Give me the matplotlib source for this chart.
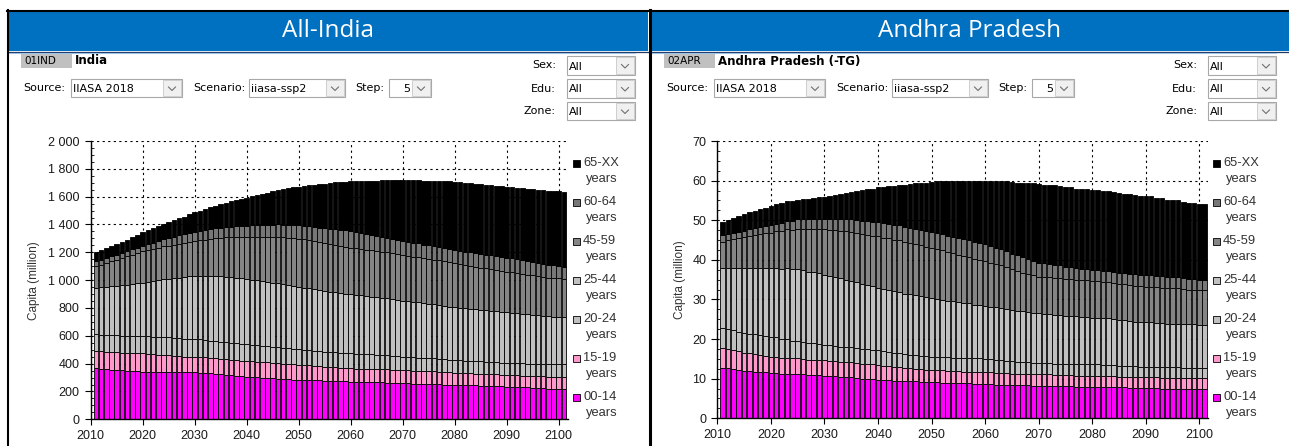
import numpy as np
import matplotlib
matplotlib.use('Agg')
import matplotlib.pyplot as plt
from matplotlib.patches import Rectangle
from matplotlib.ticker import FuncFormatter, MultipleLocator

# years shown as bars
years = list(range(2011, 2102))

age_groups = ['00-14', '15-19', '20-24', '25-44', '45-59', '60-64', '65-XX']
group_colors = ['#ff00ff', '#ff99cc', '#c0c0c0', '#c0c0c0', '#858585', '#777777', '#000000']

# All-India, million persons by age group
india_0014 = [366, 363, 360, 357, 354, 351, 348, 346, 344, 342,
              341, 340, 340, 342, 341, 340, 339, 338, 338, 338,
              336, 333, 330, 327, 324, 320, 316, 313, 310, 307,
              304, 302, 300, 298, 296, 293, 290, 288, 285, 283,
              282, 281, 280, 279, 278, 277, 276, 274, 272, 271,
              270, 269, 268, 267, 266, 265, 264, 262, 260, 259,
              258, 257, 256, 255, 254, 253, 252, 250, 248, 247,
              246, 245, 244, 243, 242, 241, 240, 238, 236, 235,
              234, 232, 230, 229, 227, 225, 223, 221, 220, 219,
              218]
india_1519 = [124, 125, 126, 127, 128, 129, 130, 131, 131, 132,
              130, 127, 124, 121, 118, 116, 114, 113, 112, 112,
              112, 112, 112, 112, 112, 112, 112, 112, 112, 112,
              112, 112, 112, 111, 111, 111, 111, 111, 110, 110,
              108, 106, 104, 102, 100, 99, 98, 97, 96, 95,
              95, 95, 95, 95, 95, 95, 95, 95, 95, 95,
              94, 93, 93, 92, 91, 91, 90, 89, 89, 88,
              88, 87, 87, 86, 86, 85, 85, 85, 84, 84,
              84, 84, 84, 84, 85, 85, 86, 86, 87, 88,
              88]
india_2024 = [120, 120, 121, 121, 122, 122, 123, 123, 124, 125,
              126, 127, 128, 129, 130, 130, 129, 128, 128, 127,
              126, 125, 124, 124, 123, 122, 122, 121, 121, 120,
              119, 118, 117, 116, 115, 114, 113, 112, 111, 110,
              110, 110, 110, 109, 109, 109, 108, 108, 108, 108,
              107, 106, 105, 104, 102, 101, 100, 98, 97, 96,
              96, 95, 95, 94, 94, 93, 93, 92, 92, 91,
              91, 90, 90, 90, 89, 89, 89, 88, 88, 88,
              88, 88, 88, 88, 88, 88, 88, 88, 88, 88,
              88]
india_2544 = [335, 340, 345, 350, 356, 361, 366, 371, 377, 383,
              390, 398, 406, 414, 422, 430, 437, 444, 450, 455,
              459, 462, 465, 467, 468, 469, 470, 470, 470, 469,
              468, 466, 464, 462, 460, 458, 455, 453, 450, 448,
              446, 443, 441, 438, 436, 433, 431, 429, 426, 424,
              422, 420, 418, 416, 414, 412, 410, 408, 405, 403,
              401, 398, 396, 393, 391, 389, 386, 384, 381, 379,
              377, 375, 374, 372, 370, 368, 367, 365, 364, 362,
              360, 358, 356, 353, 351, 349, 347, 344, 342, 340,
              338]
india_4559 = [156, 164, 172, 180, 188, 196, 204, 212, 220, 228,
              230, 232, 234, 236, 238, 240, 242, 244, 246, 249,
              254, 260, 266, 272, 278, 284, 290, 295, 300, 304,
              309, 314, 319, 324, 329, 334, 338, 342, 345, 347,
              347, 346, 345, 344, 342, 341, 340, 338, 337, 335,
              335, 334, 334, 333, 332, 332, 331, 330, 329, 328,
              327, 326, 325, 324, 323, 322, 321, 320, 318, 316,
              313, 311, 308, 306, 303, 301, 298, 296, 294, 292,
              290, 289, 287, 286, 284, 283, 281, 280, 278, 277,
              275]
india_6064 = [34, 35, 35, 36, 36, 37, 37, 38, 38, 39,
              42, 45, 48, 51, 54, 57, 60, 62, 65, 67,
              68, 69, 70, 71, 72, 74, 75, 76, 78, 79,
              81, 83, 84, 86, 88, 90, 91, 93, 95, 96,
              99, 101, 104, 106, 109, 111, 114, 116, 118, 120,
              118, 116, 114, 112, 110, 108, 106, 104, 102, 100,
              100, 99, 99, 98, 98, 97, 97, 96, 96, 96,
              97, 97, 98, 98, 99, 99, 100, 100, 101, 101,
              100, 99, 98, 97, 96, 95, 94, 92, 91, 90,
              89]
india_65xx = [67, 69, 72, 75, 78, 81, 84, 87, 91, 95,
              99, 103, 107, 111, 115, 119, 123, 127, 133, 139,
              145, 151, 157, 163, 169, 175, 181, 188, 195, 202,
              209, 216, 224, 232, 240, 248, 256, 264, 272, 279,
              287, 295, 303, 311, 319, 327, 335, 343, 351, 359,
              366, 373, 381, 389, 397, 405, 414, 423, 432, 440,
              445, 450, 455, 460, 465, 470, 475, 480, 486, 491,
              493, 495, 497, 499, 501, 503, 505, 507, 509, 510,
              512, 515, 517, 520, 523, 526, 529, 532, 535, 537,
              539]

# Andhra Pradesh, million persons by age group
ap_0014 = [12.8, 12.6, 12.4, 12.2, 12.0, 11.9, 11.8, 11.7, 11.6, 11.5,
           11.4, 11.3, 11.3, 11.2, 11.2, 11.1, 11.0, 11.0, 10.9, 10.8,
           10.7, 10.6, 10.5, 10.4, 10.3, 10.2, 10.0, 9.9, 9.8, 9.7,
           9.6, 9.6, 9.5, 9.5, 9.4, 9.3, 9.3, 9.2, 9.2, 9.1,
           9.1, 9.0, 9.0, 8.9, 8.9, 8.8, 8.8, 8.7, 8.7, 8.6,
           8.6, 8.5, 8.5, 8.4, 8.4, 8.4, 8.3, 8.3, 8.2, 8.2,
           8.2, 8.2, 8.1, 8.1, 8.1, 8.1, 8.0, 8.0, 8.0, 8.0,
           8.0, 7.9, 7.9, 7.8, 7.8, 7.8, 7.7, 7.7, 7.6, 7.6,
           7.6, 7.6, 7.5, 7.5, 7.5, 7.5, 7.4, 7.4, 7.4, 7.4,
           7.4]
ap_1519 = [4.9, 4.9, 4.8, 4.7, 4.6, 4.5, 4.4, 4.3, 4.2, 4.1,
           4.1, 4.0, 4.0, 3.9, 3.9, 3.9, 3.8, 3.8, 3.8, 3.8,
           3.8, 3.8, 3.8, 3.8, 3.8, 3.8, 3.8, 3.8, 3.8, 3.8,
           3.7, 3.6, 3.5, 3.4, 3.3, 3.3, 3.2, 3.2, 3.1, 3.1,
           3.1, 3.1, 3.0, 3.0, 3.0, 3.0, 3.0, 3.0, 3.0, 3.0,
           3.0, 3.0, 3.0, 3.0, 2.9, 2.9, 2.9, 2.9, 2.9, 2.9,
           2.9, 2.9, 2.9, 2.9, 2.8, 2.8, 2.8, 2.8, 2.8, 2.8,
           2.8, 2.8, 2.8, 2.8, 2.7, 2.7, 2.7, 2.7, 2.7, 2.7,
           2.7, 2.7, 2.7, 2.7, 2.7, 2.7, 2.7, 2.7, 2.7, 2.7,
           2.7]
ap_2024 = [5.0, 5.0, 5.0, 5.0, 5.0, 5.0, 5.0, 5.0, 5.0, 5.0,
           4.9, 4.8, 4.7, 4.5, 4.4, 4.3, 4.2, 4.1, 4.0, 3.9,
           3.9, 3.9, 3.8, 3.8, 3.8, 3.8, 3.8, 3.7, 3.7, 3.7,
           3.7, 3.6, 3.6, 3.6, 3.5, 3.5, 3.5, 3.4, 3.4, 3.4,
           3.4, 3.4, 3.4, 3.4, 3.4, 3.4, 3.4, 3.4, 3.4, 3.4,
           3.3, 3.3, 3.2, 3.1, 3.1, 3.0, 3.0, 2.9, 2.9, 2.8,
           2.8, 2.8, 2.8, 2.8, 2.8, 2.8, 2.8, 2.8, 2.8, 2.8,
           2.8, 2.8, 2.8, 2.8, 2.8, 2.7, 2.7, 2.7, 2.7, 2.7,
           2.7, 2.7, 2.7, 2.7, 2.7, 2.7, 2.7, 2.7, 2.7, 2.7,
           2.7]
ap_2544 = [15.2, 15.5, 15.8, 16.0, 16.3, 16.5, 16.7, 16.9, 17.1, 17.3,
           17.5, 17.7, 17.9, 18.0, 18.1, 18.1, 18.0, 18.0, 17.9, 17.8,
           17.6, 17.4, 17.2, 17.0, 16.8, 16.6, 16.4, 16.2, 16.0, 15.8,
           15.7, 15.6, 15.5, 15.4, 15.3, 15.2, 15.1, 15.0, 14.8, 14.7,
           14.6, 14.4, 14.3, 14.2, 14.0, 13.9, 13.8, 13.6, 13.5, 13.4,
           13.3, 13.2, 13.2, 13.1, 13.0, 12.9, 12.8, 12.8, 12.7, 12.6,
           12.5, 12.5, 12.4, 12.3, 12.2, 12.2, 12.1, 12.0, 11.9, 11.8,
           11.8, 11.7, 11.7, 11.6, 11.5, 11.5, 11.4, 11.3, 11.3, 11.2,
           11.2, 11.1, 11.1, 11.0, 11.0, 11.0, 10.9, 10.9, 10.9, 10.8,
           10.8]
ap_4559 = [6.7, 6.9, 7.2, 7.5, 7.8, 8.0, 8.3, 8.5, 8.8, 9.0,
           9.3, 9.5, 9.8, 10.0, 10.3, 10.5, 10.8, 11.0, 11.2, 11.4,
           11.6, 11.8, 12.0, 12.2, 12.4, 12.5, 12.6, 12.7, 12.8, 12.9,
           12.9, 13.0, 13.0, 13.0, 13.0, 13.0, 12.9, 12.9, 12.8, 12.8,
           12.6, 12.5, 12.3, 12.2, 12.0, 11.9, 11.7, 11.6, 11.4, 11.3,
           11.1, 10.9, 10.7, 10.5, 10.2, 10.0, 9.8, 9.6, 9.4, 9.2,
           9.2, 9.2, 9.3, 9.3, 9.3, 9.3, 9.3, 9.3, 9.3, 9.3,
           9.3, 9.3, 9.2, 9.2, 9.2, 9.1, 9.1, 9.1, 9.0, 9.0,
           9.0, 9.0, 8.9, 8.9, 8.9, 8.9, 8.9, 8.8, 8.8, 8.8,
           8.8]
ap_6064 = [1.6, 1.6, 1.7, 1.7, 1.7, 1.8, 1.8, 1.8, 1.8, 1.8,
           1.9, 2.0, 2.1, 2.2, 2.3, 2.3, 2.4, 2.5, 2.5, 2.6,
           2.7, 2.8, 2.9, 3.0, 3.1, 3.2, 3.3, 3.4, 3.5, 3.6,
           3.6, 3.7, 3.7, 3.8, 3.8, 3.8, 3.9, 3.9, 4.0, 4.0,
           4.0, 4.1, 4.1, 4.1, 4.2, 4.2, 4.2, 4.3, 4.3, 4.3,
           4.3, 4.2, 4.2, 4.1, 4.0, 3.9, 3.8, 3.8, 3.7, 3.6,
           3.5, 3.4, 3.3, 3.2, 3.1, 3.0, 2.9, 2.8, 2.8, 2.7,
           2.7, 2.7, 2.8, 2.8, 2.8, 2.9, 2.9, 2.9, 3.0, 3.0,
           3.0, 2.9, 2.9, 2.8, 2.8, 2.8, 2.7, 2.7, 2.7, 2.6,
           2.6]
ap_65xx = [3.3, 3.5, 3.7, 3.9, 4.1, 4.3, 4.4, 4.6, 4.7, 4.9,
           4.9, 5.0, 5.0, 5.0, 5.0, 5.1, 5.2, 5.3, 5.5, 5.6,
           5.9, 6.1, 6.4, 6.7, 7.0, 7.3, 7.7, 8.1, 8.4, 8.8,
           9.2, 9.6, 9.9, 10.3, 10.7, 11.1, 11.5, 11.8, 12.2, 12.6,
           13.0, 13.4, 13.7, 14.1, 14.5, 14.8, 15.1, 15.4, 15.7, 16.0,
           16.4, 16.8, 17.2, 17.6, 18.0, 18.4, 18.8, 19.1, 19.5, 19.8,
           19.9, 19.9, 20.0, 20.0, 20.1, 20.1, 20.1, 20.2, 20.2, 20.2,
           20.2, 20.1, 20.1, 20.1, 20.0, 20.0, 20.0, 19.9, 19.9, 19.9,
           19.8, 19.7, 19.7, 19.6, 19.5, 19.4, 19.3, 19.2, 19.1, 19.1,
           19.0]

india_series = [india_0014, india_1519, india_2024, india_2544, india_4559, india_6064, india_65xx]
ap_series = [ap_0014, ap_1519, ap_2024, ap_2544, ap_4559, ap_6064, ap_65xx]

W, H = 1289, 446
fig = plt.figure(figsize=(W / 100, H / 100), dpi=100)
fig.patch.set_facecolor('white')

# overlay in pixel coordinates for the dashboard frame and controls
ui = fig.add_axes([0, 0, 1, 1])
ui.set_xlim(0, W)
ui.set_ylim(H, 0)
ui.axis('off')
ui.set_zorder(0)

UI_FONT = 'DejaVu Sans'
HEAD_FONT = 'Open Sans'
CHART_FONT = 'Liberation Sans'


def dropdown(x0, y0, x1, y1, txt, right=False):
    ui.add_patch(Rectangle((x0, y0), x1 - x0, y1 - y0, fc='white', ec='#a8a8a8', lw=0.8))
    bx0 = x1 - 19
    ui.add_patch(Rectangle((bx0, y0 + 1), 18, y1 - y0 - 2, fc='#f0f0f0', ec='#c8c8c8', lw=0.6))
    cx, cy = bx0 + 9, (y0 + y1) / 2 + 1
    ui.plot([cx - 3.5, cx, cx + 3.5], [cy - 2, cy + 1.5, cy - 2], color='#707070', lw=0.8)
    if right:
        ui.text(bx0 - 2, (y0 + y1) / 2 + 1, txt, ha='right', va='center', fontsize=8, family=UI_FONT)
    else:
        ui.text(x0 + 2, (y0 + y1) / 2 + 1, txt, ha='left', va='center', fontsize=8, family=UI_FONT)


def panel(x0, x1, title, code, name, dx, dxr):
    # blue header
    ui.add_patch(Rectangle((x0, 11), x1 - x0, 40, fc='#0070c0', ec='none'))
    ui.plot([x0, x1], [51.5, 51.5], color='#1f3864', lw=0.9)
    ui.plot([x0, x1 - 13], [53, 53], color='#9dc3e6', lw=0.8)
    ui.text((x0 + x1) / 2, 31, title, ha='center', va='center', color='white',
            fontsize=17.5, family=HEAD_FONT)
    # region code and name
    ui.add_patch(Rectangle((21 + dx, 53), 51, 15, fc='#c0c0c0', ec='none'))
    ui.text(24 + dx, 61, code, ha='left', va='center', fontsize=7.5, family=UI_FONT)
    ui.text(75 + dx, 61, name, ha='left', va='center', fontsize=8.5, family=UI_FONT, weight='bold')
    # selectors
    ui.text(23 + dx, 88, 'Source:', ha='left', va='center', fontsize=8, family=UI_FONT)
    dropdown(71 + dx, 79, 182 + dx, 97, 'IIASA 2018')
    ui.text(193 + dx, 88, 'Scenario:', ha='left', va='center', fontsize=8, family=UI_FONT)
    dropdown(249 + dx, 79, 345 + dx, 97, 'iiasa-ssp2')
    ui.text(355 + dx, 88, 'Step:', ha='left', va='center', fontsize=8, family=UI_FONT)
    dropdown(389 + dx, 79, 431 + dx, 97, '5', right=True)
    for lab, ya, yb in [('Sex:', 56, 75), ('Edu:', 79, 98), ('Zone:', 102, 120)]:
        ui.text(556 + dxr, (ya + yb) / 2, lab, ha='right', va='center', fontsize=8, family=UI_FONT)
        dropdown(567 + dxr, ya, 635 + dxr, yb, 'All')


panel(8, 648, 'All-India', '01IND', 'India', 0, 0)
panel(651, W, 'Andhra Pradesh', '02APR', 'Andhra Pradesh (-TG)', 643, 641)

# frame lines
ui.plot([7, W], [10.5, 10.5], color='black', lw=1.5)
ui.plot([7.5, 7.5], [10, H], color='black', lw=1.5)
ui.plot([649.5, 649.5], [10, H], color='black', lw=2.2)


def px_axes(x0, x1, y0, y1):
    ax = fig.add_axes([x0 / W, 1 - y1 / H, (x1 - x0) / W, (y1 - y0) / H])
    ax.set_zorder(1)
    return ax


def draw_chart(ax, series, xmax, ymax, ystep, yminor, label_x):
    bottom = np.zeros(len(years))
    for vals, col in zip(series, group_colors):
        ax.bar(years, vals, width=0.85, bottom=bottom, color=col, edgecolor='black',
               linewidth=0.6, zorder=2)
        bottom += np.array(vals)
    ax.set_xlim(2010, xmax)
    ax.set_ylim(0, ymax)
    ax.set_xticks(range(2010, 2101, 10))
    ax.yaxis.set_major_locator(MultipleLocator(ystep))
    ax.yaxis.set_minor_locator(MultipleLocator(yminor))
    ax.yaxis.set_major_formatter(FuncFormatter(lambda v, _: f'{int(round(v)):,}'.replace(',', ' ')))
    ax.grid(True, which='major', color='black', lw=0.8, ls=(0, (2, 3)), zorder=0)
    ax.set_axisbelow(True)
    for s in ['top', 'right']:
        ax.spines[s].set_visible(False)
    for s in ['left', 'bottom']:
        ax.spines[s].set_linewidth(1.0)
        ax.spines[s].set_zorder(3)
    ax.tick_params(axis='both', which='major', direction='out', length=4, width=0.8,
                   labelsize=9, labelcolor='#1a1a1a', pad=4)
    ax.tick_params(axis='y', which='minor', direction='in', length=2, width=0.6)
    for lab in ax.get_xticklabels() + ax.get_yticklabels():
        lab.set_family(CHART_FONT)
    ax.set_ylabel('Capita (million)', fontsize=8.5, family=CHART_FONT, color='#333333')
    ax.yaxis.set_label_coords(label_x, 0.5)


ax1 = px_axes(90.7, 90.7 + 91.8 * 5.2, 141, 419.3)
draw_chart(ax1, india_series, 2101.8, 2000, 200, 50, -0.107)

ax2 = px_axes(717.3, 717.3 + 91.6 * 5.356, 141, 418.3)
draw_chart(ax2, ap_series, 2101.6, 70, 10, 2.5, -0.064)


def legend(x_sq, y_first):
    for i, (name, col) in enumerate(zip(age_groups[::-1], group_colors[::-1])):
        y = y_first + i * 39
        ui.add_patch(Rectangle((x_sq, y - 3.5), 7, 7, fc=col, ec='black', lw=0.6))
        ui.text(x_sq + 10, y, name, ha='left', va='center', fontsize=9.3,
                family=CHART_FONT, color='#333333')
        ui.text(x_sq + 13, y + 16, 'years', ha='left', va='center', fontsize=9.3,
                family=CHART_FONT, color='#333333')


legend(573, 163)
legend(1213, 163)

fig.savefig('out.png', dpi=100)
